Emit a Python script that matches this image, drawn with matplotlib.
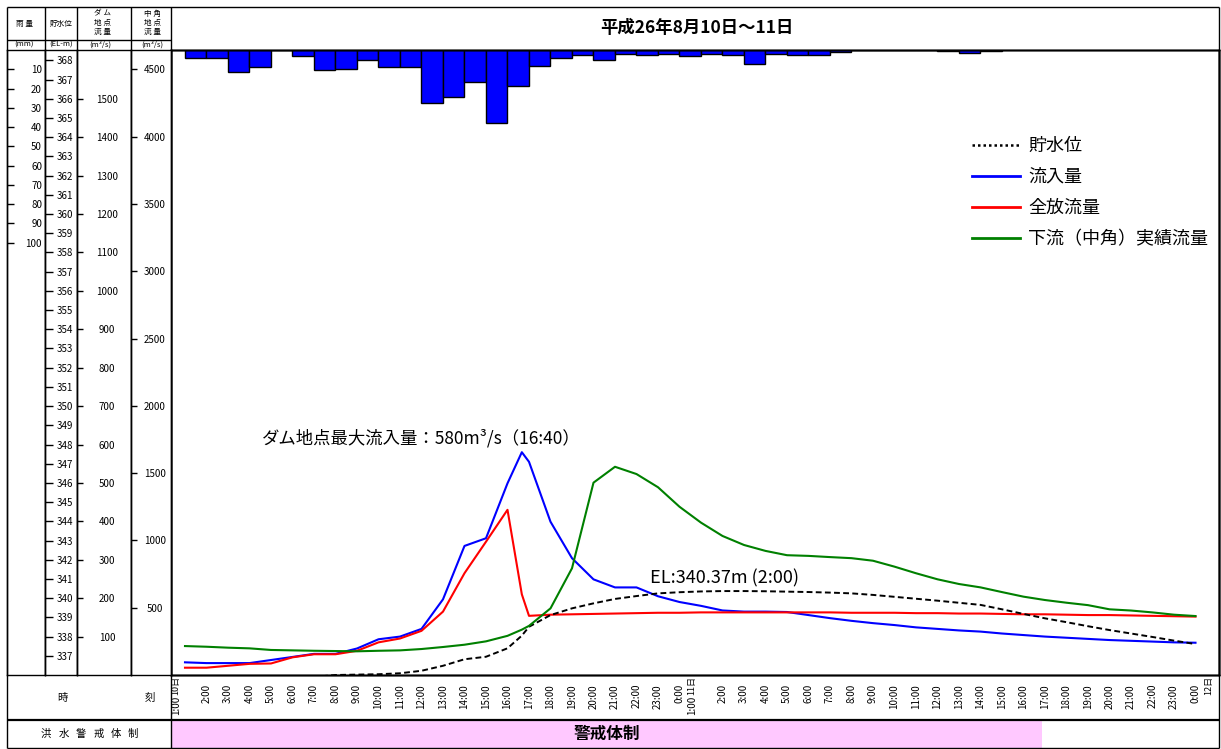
import matplotlib
matplotlib.use("Agg")
import matplotlib.pyplot as plt
from matplotlib import transforms
from matplotlib.lines import Line2D
from matplotlib.patches import Rectangle

plt.rcParams['font.family'] = ['Noto Sans CJK JP', 'DejaVu Sans']

# time axis: 1 = 10日 1:00 ... 48 = 12日 0:00 (hourly, plus the 16:40 peak)
hours = list(range(1, 17)) + [16 + 40 / 60] + list(range(17, 49))

# ダム地点 流入量 (m3/s)
inflow = [33, 31, 31, 31, 39, 47, 55, 55, 69, 93, 100, 120, 197, 336, 356, 499,
          580,
          555, 399, 304, 249, 228, 228, 205, 190, 180, 168, 165, 165, 164, 156,
          148, 141, 135, 130, 124, 120, 116, 113, 108, 104, 100, 97, 94, 91, 89,
          87, 85, 84]

# 全放流量 (m3/s)
outflow = [19, 19, 24, 29, 30, 46, 54, 54, 63, 85, 95, 115, 165, 265, 347, 430,
           210,
           154, 157, 158, 159, 160, 161, 162, 162, 163, 163, 163, 163, 163, 163,
           163, 162, 162, 162, 161, 161, 160, 160, 159, 158, 158, 157, 156, 156,
           155, 154, 153, 152]

# 下流（中角）実績流量 (m3/s)
nakatsuno = [215, 210, 203, 198, 186, 183, 180, 178, 176, 180, 183, 193, 208,
             225, 250, 291,
             337,
             365, 495, 793, 1429, 1547, 1493, 1395, 1250, 1132, 1033, 966, 922,
             890, 885, 876, 868, 849, 805, 756, 711, 676, 651, 616, 582, 557,
             537, 519, 488, 479, 465, 448, 438]

# 貯水位 (EL-m)
level = [335.8, 335.8, 335.8, 335.8, 335.8, 335.8, 335.9, 336.00, 336.02,
         336.04, 336.09, 336.22, 336.48, 336.82, 336.95, 337.39,
         338.05,
         338.51, 339.12, 339.47, 339.73, 339.96, 340.11, 340.25, 340.31, 340.35,
         340.37, 340.37, 340.36, 340.34, 340.32, 340.29, 340.25, 340.17, 340.07,
         339.97, 339.87, 339.76, 339.65, 339.42, 339.18, 338.95, 338.75, 338.54,
         338.34, 338.16, 337.98, 337.79, 337.61]

# 雨量 (mm), one bar per hour starting at the given hour
rain_hours = list(range(1, 39))
rain = [4.3, 4.0, 11.6, 8.8, 0, 3.1, 10.2, 9.9, 5.4, 8.8, 8.8, 27.7, 24.6,
        16.4, 38.1, 18.9, 8.1, 4.3, 2.6, 5.0, 2.1, 2.8, 2.1, 3.1, 2.1, 2.8,
        7.1, 2.1, 2.8, 2.4, 1.0, 0, 0, 0, 0, 0.5, 1.5, 0.5]

alert_end = 40.85  # 警戒体制 end (11日 ~16:50)

legend_labels = ['貯水位', '流入量', '全放流量', '下流（中角）実績流量']

# scales
W, H = 1221, 749
X_LEFT, X_RIGHT = 0.349, 49.093
FLOW_TOP = 1627
NK_RATIO = 2.854
EL_BASE = 336
RAIN_BOTTOM = 324.5


def box(x0, y0, x1, y1):
    return [x0 / W, 1 - y1 / H, (x1 - x0) / W, (y1 - y0) / H]


def pt(px):
    return px * 72 / 100


fig = plt.figure(figsize=(W / 100, H / 100), dpi=100)

# main chart
ax = fig.add_axes(box(171, 50, 1219, 675))
ax.set_xlim(X_LEFT, X_RIGHT)
ax.set_ylim(0, FLOW_TOP)

ax_rain = ax.twinx()
ax_rain.set_ylim(RAIN_BOTTOM, 0)
ax_el = ax.twinx()
ax_el.set_ylim(EL_BASE, EL_BASE + FLOW_TOP / 50)
ax_nk = ax.twinx()
ax_nk.set_ylim(0, FLOW_TOP * NK_RATIO)

for a in (ax, ax_rain, ax_el, ax_nk):
    a.set_yticks([])
    for s in a.spines.values():
        s.set_linewidth(1.0)

ax_rain.bar(rain_hours, rain, width=1, align='edge', color='#0000ff',
            edgecolor='black', linewidth=1.0)

ax.plot(hours, inflow, color='#0000ff', lw=1.5)
ax.plot(hours, outflow, color='#ff0000', lw=1.5)
ax_nk.plot(hours, nakatsuno, color='#008000', lw=1.5)
ax_el.plot(hours, level, color='black', lw=1.4, ls=(0, (3, 1.7)))

ax.text(4.6, 617, 'ダム地点最大流入量：580m³/s（16:40）', fontsize=12.5,
        va='center', ha='left')
ax.text(22.63, 252, 'EL:340.37m (2:00)', fontsize=13, va='center', ha='left')

tick_hours = [h for h in range(2, 49) if h != 25]
ax.set_xticks(tick_hours)
ax.set_xticklabels([f'{h % 24}:00' for h in tick_hours], rotation=90, fontsize=7)
ax.tick_params(axis='x', length=0, pad=pt(9))

handles = [Line2D([], [], color='black', lw=1.8, ls=(0, (1, 1.2))),
           Line2D([], [], color='#0000ff', lw=2),
           Line2D([], [], color='#ff0000', lw=2),
           Line2D([], [], color='#008000', lw=2)]
ax_nk.legend(handles, legend_labels, loc='upper left',
             bbox_to_anchor=(972 / W, 1 - 137 / H), bbox_transform=fig.transFigure,
             frameon=False, fontsize=13, handlelength=2.67, handletextpad=0.45,
             labelspacing=0.72, borderpad=0, borderaxespad=0)

# scale columns on the left
tk = dict(axis='y', direction='in', labelsize=7, width=1)

ax_r = fig.add_axes(box(7, 50, 45, 675))
ax_r.set_ylim(RAIN_BOTTOM, 0)
ax_r.set_yticks(range(10, 101, 10))
ax_r.tick_params(length=pt(7), pad=-pt(35), **tk)

ax_l = fig.add_axes(box(45, 50, 77, 675))
ax_l.set_ylim(EL_BASE, EL_BASE + FLOW_TOP / 50)
ax_l.set_yticks(range(337, 369))
ax_l.tick_params(length=pt(8), pad=-pt(20), left=True, right=False,
                 labelleft=False, labelright=True, **tk)

ax_d = fig.add_axes(box(77, 50, 131, 675))
ax_d.set_ylim(0, FLOW_TOP)
ax_d.set_yticks(range(100, 1501, 100))
ax_d.tick_params(length=pt(6), pad=-pt(30), **tk)
plt.setp(ax_d.get_yticklabels(), ha='center')

ax_n = fig.add_axes(box(131, 50, 171, 675))
ax_n.set_ylim(0, FLOW_TOP * NK_RATIO)
ax_n.set_yticks(range(500, 4501, 500))
ax_n.tick_params(length=pt(6), pad=-pt(24), **tk)
plt.setp(ax_n.get_yticklabels(), ha='center')

for a in (ax_r, ax_l, ax_d, ax_n):
    a.set_xticks([])
    for s in a.spines.values():
        s.set_linewidth(1.0)

# frame, header and bottom rows in pixel units
ov = fig.add_axes([0, 0, 1, 1], zorder=5)
ov.set_xlim(0, W)
ov.set_ylim(H, 0)
ov.axis('off')


def hline(y, x0, x1, lw=1.0):
    ov.plot([x0, x1], [y, y], color='black', lw=lw, solid_capstyle='butt')


def vline(x, y0, y1, lw=1.0):
    ov.plot([x, x], [y0, y1], color='black', lw=lw, solid_capstyle='butt')


hline(7, 7, 1219)
hline(40, 7, 171)
hline(720, 7, 1219, lw=1.6)
hline(748, 7, 1219)
for x in (45, 77, 131):
    vline(x, 7, 675)
for x in (7, 171, 1219):
    vline(x, 7, 748)

bt = transforms.blended_transform_factory(ax.transData, ov.transData)
ov.add_patch(Rectangle((X_LEFT, 721), alert_end - X_LEFT, 27, transform=bt,
                       facecolor='#ffc8ff', edgecolor='none', zorder=0))
ov.text((X_LEFT + alert_end) / 2, 734, '警戒体制', transform=bt, fontsize=12,
        fontweight='bold', ha='center', va='center')

ov.text(697, 28, '平成26年8月10日～11日', fontsize=12.5, fontweight='bold',
        ha='center', va='center')

# day markers on the time row
shift_l = transforms.offset_copy(bt, fig=fig, x=-9, y=0, units='dots')
shift_r = transforms.offset_copy(bt, fig=fig, x=13, y=0, units='dots')
for h, day in ((1, '10日'), (25, '11日')):
    ov.text(h, 676, day, transform=shift_l, rotation=90, fontsize=6.5,
            ha='center', va='top')
    ov.text(h, 696, '1:00', transform=shift_l, rotation=90, fontsize=7,
            ha='center', va='top')
ov.text(48, 676, '12日', transform=shift_r, rotation=90, fontsize=6.5,
        ha='center', va='top')

ov.text(62, 698, '時', fontsize=7.5, ha='center', va='center')
ov.text(150, 698, '刻', fontsize=7.5, ha='center', va='center')
for i, ch in enumerate('洪水警戒体制'):
    ov.text(46 + i * 17.4, 734, ch, fontsize=7.5, ha='center', va='center')

hdr = dict(fontsize=5.5, ha='center', va='center', linespacing=1.2)
ov.text(24, 24, '雨 量', **hdr)
ov.text(61, 24, '貯水位', **hdr)
ov.text(103, 23, 'ダ ム\n地 点\n流 量', **hdr)
ov.text(152, 23, '中 角\n地 点\n流 量', **hdr)
ov.text(24, 44.5, '(mm)', **hdr)
ov.text(61, 44.5, '(EL-m)', **hdr)
ov.text(100, 44.5, '(m³/s)', **hdr)
ov.text(152, 44.5, '(m³/s)', **hdr)

fig.savefig('out.png', dpi=100)
